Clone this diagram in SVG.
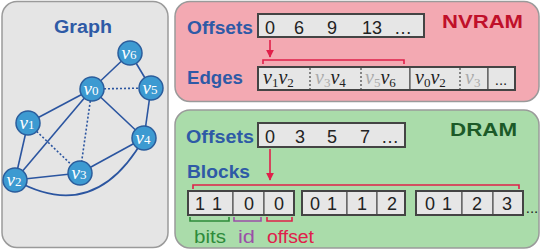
<svg xmlns="http://www.w3.org/2000/svg" width="541" height="252" viewBox="0 0 541 252">
<style>
.panel{stroke:#9a9a9a;stroke-width:1.5}
.lbl{font-family:"Liberation Sans",Arial,sans-serif;font-weight:bold;font-size:18px;fill:#2e5aa6}
.num{font-family:"Liberation Sans",Arial,sans-serif;font-size:18px;fill:#222;text-anchor:middle}
.cell{fill:#e6e6e6;stroke:#555;stroke-width:1.2}
.grp{fill:none;stroke:#444;stroke-width:2}
.mv{font-family:"Liberation Serif","Times New Roman",serif;font-style:italic;font-size:20px;fill:#222}
.mv .s{font-size:13px;font-style:normal}
.gray{fill:#aaa}
.edge{stroke:#2b55a0;stroke-width:1.6;fill:none}
.dot{stroke-dasharray:2 2}
.node circle{fill:#3d9ad1;stroke:#2b5d9c;stroke-width:1.5}
.node text{font-family:"Liberation Serif","Times New Roman",serif;font-style:italic;font-size:19px;fill:#fff;text-anchor:middle}
.red{stroke:#e0204a;stroke-width:1.6;fill:none}
</style>
<defs>
<marker id="ah" viewBox="0 0 10 10" refX="9" refY="5" markerWidth="5" markerHeight="5" orient="auto"><path d="M0,0L10,5L0,10z" fill="#e0204a"/></marker>
</defs>

<!-- Panels -->
<g id="graph-panel">
<rect class="panel" x="2" y="1.5" width="166" height="246" rx="15" fill="#e5e5e5"/>
<text class="lbl" x="54" y="33" textLength="58" lengthAdjust="spacingAndGlyphs">Graph</text>
</g>
<g id="nvram-panel">
<rect class="panel" x="175" y="1.5" width="364" height="100" rx="15" fill="#f3a9b2"/>
<text class="lbl" x="442" y="28" textLength="81" lengthAdjust="spacingAndGlyphs" style="fill:#c0102a">NVRAM</text>
</g>
<g id="dram-panel">
<rect class="panel" x="175" y="110" width="364" height="138" rx="15" fill="#aadcaa"/>
<text class="lbl" x="450" y="136" textLength="67" lengthAdjust="spacingAndGlyphs" style="fill:#1c5a28">DRAM</text>
</g>

<!-- Graph connectors -->
<g id="connectors">
<line class="edge" x1="130" y1="53" x2="92" y2="89"/>
<line class="edge" x1="130" y1="53" x2="151" y2="88"/>
<line class="edge dot" x1="92" y1="89" x2="151" y2="88"/>
<line class="edge" x1="92" y1="89" x2="28" y2="123"/>
<line class="edge" x1="92" y1="89" x2="144" y2="138"/>
<line class="edge" x1="92" y1="89" x2="15" y2="180"/>
<line class="edge dot" x1="92" y1="89" x2="80" y2="173"/>
<line class="edge" x1="151" y1="88" x2="144" y2="138"/>
<line class="edge" x1="28" y1="123" x2="15" y2="180"/>
<line class="edge dot" x1="28" y1="123" x2="80" y2="173"/>
<line class="edge" x1="15" y1="180" x2="80" y2="173"/>
<line class="edge" x1="80" y1="173" x2="144" y2="138"/>
<path class="edge" d="M15,180 Q95,225 144,138"/>
<!-- data-structure arrows and brackets -->
<line class="red" x1="270" y1="40" x2="270" y2="57" marker-end="url(#ah)"/>
<path class="red" d="M263,64V60H404V64"/>
<line class="red" x1="270" y1="149" x2="270" y2="180" marker-end="url(#ah)"/>
<path class="red" d="M193,189V185H519V189"/>
<path d="M190,217V221H229V217" stroke="#2e8b3a" stroke-width="1.6" fill="none"/>
<path d="M234,217V221H261V217" stroke="#9b4fa8" stroke-width="1.6" fill="none"/>
<path class="red" d="M267,217V221H292V217"/>
</g>

<!-- Graph nodes -->
<g id="v6" class="node"><circle cx="130" cy="53" r="12"/><text x="129" y="59">v<tspan font-size="13" font-style="normal">6</tspan></text></g>
<g id="v0" class="node"><circle cx="92" cy="89" r="12"/><text x="91" y="95">v<tspan font-size="13" font-style="normal">0</tspan></text></g>
<g id="v5" class="node"><circle cx="151" cy="88" r="12"/><text x="150" y="94">v<tspan font-size="13" font-style="normal">5</tspan></text></g>
<g id="v1" class="node"><circle cx="28" cy="123" r="12"/><text x="27" y="129">v<tspan font-size="13" font-style="normal">1</tspan></text></g>
<g id="v4" class="node"><circle cx="144" cy="138" r="12"/><text x="143" y="144">v<tspan font-size="13" font-style="normal">4</tspan></text></g>
<g id="v3" class="node"><circle cx="80" cy="173" r="12"/><text x="79" y="179">v<tspan font-size="13" font-style="normal">3</tspan></text></g>
<g id="v2" class="node"><circle cx="15" cy="180" r="12"/><text x="14" y="186">v<tspan font-size="13" font-style="normal">2</tspan></text></g>

<!-- NVRAM offsets -->
<g id="nv-offsets">
<text class="lbl" x="187" y="34" textLength="66" lengthAdjust="spacingAndGlyphs">Offsets</text>
<rect class="cell" x="258" y="14" width="166" height="23" style="stroke-width:2;stroke:#444"/>
<text class="num" x="270" y="34">0</text>
<text class="num" x="299" y="34">6</text>
<text class="num" x="332" y="34">9</text>
<text class="num" x="372" y="34">13</text>
<text class="num" x="403" y="34">…</text>
</g>

<!-- NVRAM edges -->
<g id="nv-edges">
<text class="lbl" x="187" y="84" textLength="56" lengthAdjust="spacingAndGlyphs">Edges</text>
<rect class="cell" x="258" y="67" width="152" height="23"/>
<rect class="cell" x="410" y="67" width="78" height="23"/>
<rect class="cell" x="488" y="67" width="27" height="23"/>
<rect class="grp" x="258" y="67" width="257" height="23"/>
<line x1="310" y1="68" x2="310" y2="89" stroke="#444" stroke-width="1.2" stroke-dasharray="2 2"/>
<line x1="361" y1="68" x2="361" y2="89" stroke="#444" stroke-width="1.2" stroke-dasharray="2 2"/>
<line x1="460" y1="68" x2="460" y2="89" stroke="#444" stroke-width="1.2" stroke-dasharray="2 2"/>
<text class="mv" x="263" y="84">v<tspan class="s" dy="3">1</tspan><tspan dy="-3">v</tspan><tspan class="s" dy="3">2</tspan></text>
<text class="mv" x="315" y="84"><tspan class="gray">v</tspan><tspan class="s gray" dy="3">3</tspan><tspan dy="-3">v</tspan><tspan class="s" dy="3">4</tspan></text>
<text class="mv" x="365" y="84"><tspan class="gray">v</tspan><tspan class="s gray" dy="3">5</tspan><tspan dy="-3">v</tspan><tspan class="s" dy="3">6</tspan></text>
<text class="mv" x="415" y="84">v<tspan class="s" dy="3">0</tspan><tspan dy="-3">v</tspan><tspan class="s" dy="3">2</tspan></text>
<text class="mv" x="465" y="84"><tspan class="gray">v</tspan><tspan class="s gray" dy="3">3</tspan></text>
<text class="num" x="501" y="85" style="font-size:15px">...</text>
</g>

<!-- DRAM offsets -->
<g id="dr-offsets">
<text class="lbl" x="186" y="143" textLength="68" lengthAdjust="spacingAndGlyphs">Offsets</text>
<rect class="cell" x="258" y="123" width="147" height="24" style="stroke-width:2;stroke:#444"/>
<text class="num" x="270" y="143">0</text>
<text class="num" x="300" y="143">3</text>
<text class="num" x="332" y="143">5</text>
<text class="num" x="365" y="143">7</text>
<text class="num" x="390" y="143">…</text>
</g>

<!-- DRAM blocks -->
<g id="dr-blocks">
<text class="lbl" x="187" y="178" textLength="63" lengthAdjust="spacingAndGlyphs">Blocks</text>
<rect class="cell" x="188" y="191" width="45" height="24"/>
<rect class="cell" x="233" y="191" width="31" height="24"/>
<rect class="cell" x="264" y="191" width="30" height="24"/>
<rect class="grp" x="188" y="191" width="106" height="24"/>
<rect class="cell" x="302" y="191" width="45" height="24"/>
<rect class="cell" x="347" y="191" width="30" height="24"/>
<rect class="cell" x="377" y="191" width="28" height="24"/>
<rect class="grp" x="302" y="191" width="103" height="24"/>
<rect class="cell" x="416" y="191" width="46" height="24"/>
<rect class="cell" x="462" y="191" width="31" height="24"/>
<rect class="cell" x="493" y="191" width="30" height="24"/>
<rect class="grp" x="416" y="191" width="107" height="24"/>
<text class="num" x="200" y="210">1</text><text class="num" x="217" y="210">1</text>
<text class="num" x="249" y="210">0</text>
<text class="num" x="279" y="210">0</text>
<text class="num" x="315" y="210">0</text><text class="num" x="332" y="210">1</text>
<text class="num" x="362" y="210">1</text>
<text class="num" x="392" y="210">2</text>
<text class="num" x="430" y="210">0</text><text class="num" x="447" y="210">1</text>
<text class="num" x="477" y="210">2</text>
<text class="num" x="507" y="210">3</text>
<text class="num" x="532" y="213" style="font-size:15px">...</text>
<text x="194" y="243" style="font-family:'Liberation Sans',Arial,sans-serif;font-size:18px;fill:#2e8b3a" textLength="32" lengthAdjust="spacingAndGlyphs">bits</text>
<text x="238" y="243" style="font-family:'Liberation Sans',Arial,sans-serif;font-size:18px;fill:#9b4fa8" textLength="17" lengthAdjust="spacingAndGlyphs">id</text>
<text x="267" y="243" style="font-family:'Liberation Sans',Arial,sans-serif;font-size:18px;fill:#e0204a" textLength="47" lengthAdjust="spacingAndGlyphs">offset</text>
</g>
</svg>
